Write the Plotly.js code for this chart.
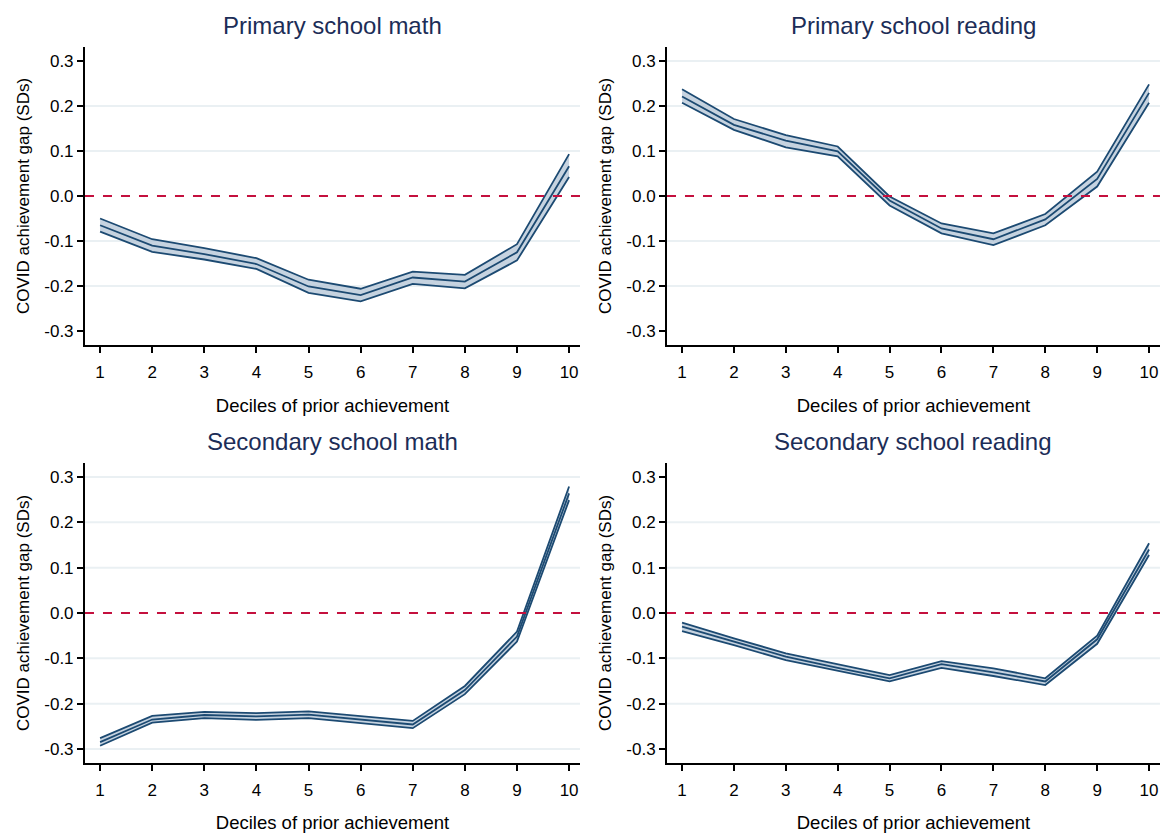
<!DOCTYPE html>
<html>
<head>
<meta charset="utf-8">
<script src="https://cdn.plot.ly/plotly-3.0.1.min.js"></script>
<style>html,body{margin:0;padding:0;background:#fff}#chart{width:1161px;height:833px}</style>
</head>
<body>
<div id="chart"></div>
<script>
const deciles = [1,2,3,4,5,6,7,8,9,10];
const panelTitles = ["Primary school math","Primary school reading","Secondary school math","Secondary school reading"];
const xTitle = "Deciles of prior achievement";
const yTitle = "COVID achievement gap (SDs)";
const yTickVals = [-0.3,-0.2,-0.1,0,0.1,0.2,0.3];
const yTickText = ["-0.3","-0.2","-0.1","0.0","0.1","0.2","0.3"];
// gridlines visible in each panel
const gridVals = [
  [-0.2,-0.1,0.1,0.2],
  [-0.2,-0.1,0.1,0.2,0.3],
  [-0.3,-0.2,-0.1,0.1,0.2,0.3],
  [-0.2,-0.1,0.1,0.2]
];

// Primary school math
const pmUpper = [-0.050,-0.096,-0.116,-0.138,-0.186,-0.206,-0.168,-0.175,-0.107,0.093];
const pmMid   = [-0.065,-0.110,-0.129,-0.151,-0.201,-0.220,-0.181,-0.190,-0.125,0.066];
const pmLower = [-0.079,-0.124,-0.141,-0.162,-0.215,-0.234,-0.195,-0.205,-0.143,0.042];
// Primary school reading
const prUpper = [0.237,0.171,0.135,0.110,-0.001,-0.061,-0.083,-0.040,0.054,0.248];
const prMid   = [0.221,0.158,0.123,0.099,-0.010,-0.072,-0.096,-0.052,0.038,0.229];
const prLower = [0.207,0.147,0.108,0.088,-0.021,-0.083,-0.109,-0.065,0.021,0.207];
// Secondary school math
const smUpper = [-0.276,-0.227,-0.218,-0.221,-0.217,-0.227,-0.238,-0.161,-0.041,0.279];
const smMid   = [-0.285,-0.235,-0.225,-0.228,-0.224,-0.235,-0.246,-0.170,-0.052,0.264];
const smLower = [-0.293,-0.242,-0.232,-0.236,-0.232,-0.243,-0.254,-0.179,-0.063,0.249];
// Secondary school reading
const srUpper = [-0.021,-0.056,-0.089,-0.113,-0.137,-0.106,-0.122,-0.144,-0.050,0.154];
const srMid   = [-0.030,-0.063,-0.096,-0.121,-0.144,-0.113,-0.131,-0.151,-0.058,0.140];
const srLower = [-0.040,-0.071,-0.104,-0.128,-0.151,-0.121,-0.139,-0.159,-0.068,0.128];

const panels = [
  {u: pmUpper, m: pmMid, l: pmLower},
  {u: prUpper, m: prMid, l: prLower},
  {u: smUpper, m: smMid, l: smLower},
  {u: srUpper, m: srMid, l: srLower}
];

const lineCol = "#1c4a72";
const fillCol = "rgba(176,194,212,0.72)";
const font = "'Liberation Sans Narrow', 'Liberation Sans', Arial, sans-serif";

const traces = [];
const axSuffix = ["", "2", "3", "4"];
panels.forEach((p, i) => {
  const xa = "x" + axSuffix[i], ya = "y" + axSuffix[i];
  traces.push({x: deciles, y: p.l, xaxis: xa, yaxis: ya, mode: "lines", line: {color: lineCol, width: 1.8}, hoverinfo: "skip", showlegend: false});
  traces.push({x: deciles, y: p.u, xaxis: xa, yaxis: ya, mode: "lines", fill: "tonexty", fillcolor: fillCol, line: {color: lineCol, width: 1.8}, hoverinfo: "skip", showlegend: false});
  traces.push({x: deciles, y: p.m, xaxis: xa, yaxis: ya, mode: "lines", line: {color: lineCol, width: 1.8}, showlegend: false});
});

const xDomains = [[0.0732, 0.4996], [0.5745, 0.9991]];
const yDomains = [[0.5858, 0.9436], [0.0840, 0.4442]];

const layout = {
  width: 1161, height: 833,
  margin: {l: 0, r: 0, t: 0, b: 0},
  paper_bgcolor: "#fff", plot_bgcolor: "#fff",
  font: {family: font, size: 16, color: "#000"},
  showlegend: false,
  shapes: [], annotations: []
};

panels.forEach((p, i) => {
  const s = axSuffix[i];
  const col = i % 2, row = Math.floor(i / 2);
  layout["xaxis" + s] = {
    domain: xDomains[col], anchor: "y" + s, range: [0.71, 10.21],
    tickvals: deciles, ticks: "outside", ticklen: 6, tickwidth: 2, tickcolor: "#000",
    ticklabelstandoff: 5,
    showline: true, linecolor: "#000", linewidth: 2, showgrid: false, zeroline: false,
    tickfont: {family: font, size: 17, color: "#000"},
    title: {text: xTitle, font: {family: font, size: 18.5, color: "#000"}, standoff: 18}
  };
  layout["yaxis" + s] = {
    domain: yDomains[row], anchor: "x" + s, range: [-0.331, 0.331],
    tickvals: yTickVals, ticktext: yTickText, ticks: "outside", ticklen: 6, tickwidth: 2, tickcolor: "#000",
    showline: true, linecolor: "#000", linewidth: 2, showgrid: false, zeroline: false,
    tickfont: {family: font, size: 17, color: "#000"},
    title: {text: yTitle, font: {family: font, size: 17, color: "#000"}, standoff: 10}
  };
  gridVals[i].forEach(g => {
    layout.shapes.push({type: "line", layer: "below", xref: "x" + s + " domain", yref: "y" + s, x0: 0, x1: 1, y0: g, y1: g,
      line: {color: "#eaf0f3", width: 2}});
  });
  layout.shapes.push({type: "line", xref: "x" + s + " domain", yref: "y" + s, x0: 0, x1: 1, y0: 0, y1: 0,
    line: {color: "#c4103e", width: 2, dash: "dash"}});
  layout.annotations.push({text: panelTitles[i], xref: "x" + s + " domain", yref: "y" + s + " domain",
    x: 0.5, y: 1.02, xanchor: "center", yanchor: "bottom", showarrow: false,
    font: {family: font, size: 24, color: "#1c2d57"}});
});

Plotly.newPlot("chart", traces, layout, {displayModeBar: false, staticPlot: true});
</script>
</body>
</html>
